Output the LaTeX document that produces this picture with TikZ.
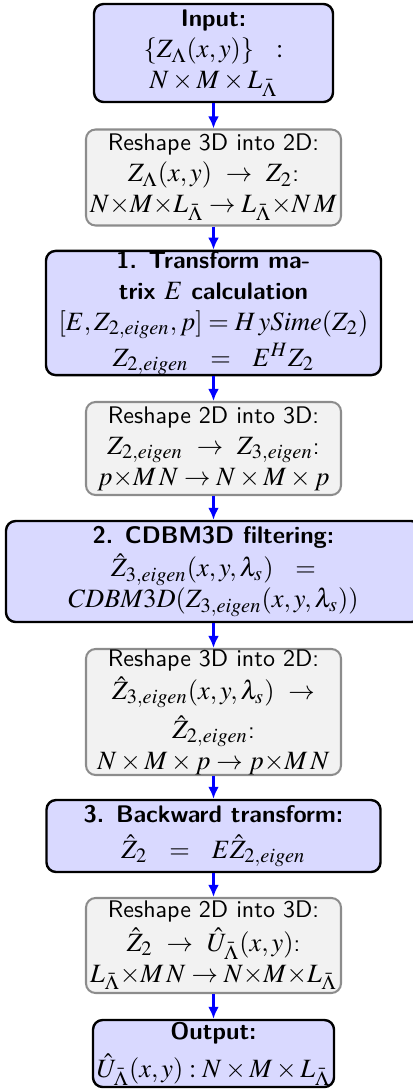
\documentclass[tikz,border=0pt]{standalone}
\usepackage{mathptmx}
\DeclareMathSizes{10}{11}{8.5}{6.5}
\usetikzlibrary{arrows.meta}
\tikzset{
  x=0.41667pt, y=-0.41667pt,
  mainbox/.style={draw=black, line width=1pt, rounded corners=4pt, fill=blue!15,
    align=center, font=\sffamily\fontsize{10}{12.9}\selectfont, inner sep=0pt},
  subbox/.style={draw=black!45, line width=0.85pt, rounded corners=4pt, fill=gray!10,
    align=center, font=\sffamily\fontsize{10}{12.9}\selectfont, inner sep=0pt},
  flow/.style={blue, line width=1.2pt, -{Latex[length=5pt,width=4.5pt]}},
}
\begin{document}
\begin{tikzpicture}
\useasboundingbox (0,0) rectangle (413,1089);
\node[mainbox, minimum width=239*0.41667pt, minimum height=98*0.41667pt] (b1) at (213.5,53)
  {\textbf{Input:}\\ $\{Z_\Lambda(x,y)\}\ \ :$\\ $N\times M\times L_{\bar\Lambda}$};
\node[subbox, minimum width=255*0.41667pt, minimum height=96*0.41667pt] (b2) at (213.5,177.5)
  {Reshape 3D into 2D:\\ $Z_\Lambda(x,y)\ \rightarrow\ Z_2$:\\ $N{\times}M{\times}L_{\bar\Lambda}\rightarrow L_{\bar\Lambda}{\times}N\,M$};
\node[mainbox, minimum width=335*0.41667pt, minimum height=124*0.41667pt] (b3) at (213.5,313)
  {\textbf{1. Transform ma-}\\ \textbf{trix $E$ calculation}\\ $[E,Z_{2,eigen},p]=H\,ySime(Z_2)$\\[1pt] $Z_{2,eigen}\ \ =\ \ E^HZ_2$};
\node[subbox, minimum width=255*0.41667pt, minimum height=93*0.41667pt] (b4) at (213.5,448.5)
  {Reshape 2D into 3D:\\ $Z_{2,eigen}\ \rightarrow\ Z_{3,eigen}$:\\ $p{\times}M\,N\rightarrow N\times M\times p$};
\node[mainbox, minimum width=415*0.41667pt, minimum height=101*0.41667pt] (b5) at (213.5,571.5)
  {\textbf{2. CDBM3D filtering:}\\[1pt] $\hat Z_{3,eigen}(x,y,\lambda_s)\ \ =$\\ $CDBM3D(Z_{3,eigen}(x,y,\lambda_s))$};
\node[subbox, minimum width=255*0.41667pt, minimum height=126*0.41667pt] (b6) at (213.5,712)
  {Reshape 3D into 2D:\\[1pt] $\hat Z_{3,eigen}(x,y,\lambda_s)\ \rightarrow$\\[2pt] $\hat Z_{2,eigen}$:\\ $N\times M\times p\rightarrow p{\times}M\,N$};
\node[mainbox, minimum width=334*0.41667pt, minimum height=72*0.41667pt] (b7) at (213.5,836)
  {\textbf{3. Backward transform:}\\[2pt] $\hat Z_2\ \ =\ \ E\hat Z_{2,eigen}$};
\node[subbox, minimum width=255*0.41667pt, minimum height=95*0.41667pt] (b8) at (213.5,945.5)
  {Reshape 2D into 3D:\\[1pt] $\hat Z_2\ \rightarrow\ \hat U_{\bar\Lambda}(x,y)$:\\ $L_{\bar\Lambda}{\times}M\,N\rightarrow N{\times}M{\times}L_{\bar\Lambda}$};
\node[mainbox, minimum width=241*0.41667pt, minimum height=67*0.41667pt] (b9) at (213.5,1053.5)
  {\textbf{Output:}\\[3pt] $\hat U_{\bar\Lambda}(x,y):N\times M\times L_{\bar\Lambda}$};
\foreach \a/\b in {b1/b2,b2/b3,b3/b4,b4/b5,b5/b6,b6/b7,b7/b8,b8/b9}
  \draw[flow] (\a.south) -- (\b.north);
\end{tikzpicture}
\end{document}
